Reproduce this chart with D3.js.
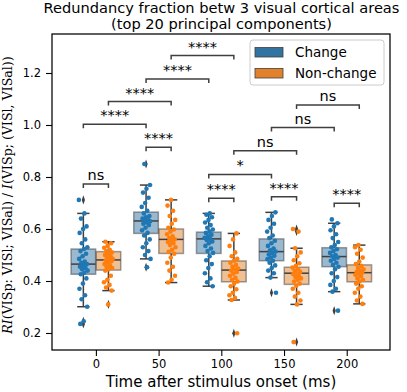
<!DOCTYPE html>
<html>
<head>
<meta charset="UTF-8">
<title>Redundancy fraction</title>
<script src="https://cdn.jsdelivr.net/npm/d3@7"></script>
<style>
  body { margin: 0; background: #fff; }
  text { font-family: "DejaVu Sans", sans-serif; fill: #000; }
</style>
</head>
<body>
<script>
var times = [0, 50, 100, 150, 200];
var hues = ["Change", "Non-change"];
var yTicks = [0.2, 0.4, 0.6, 0.8, 1.0, 1.2];

// single trial values per time bin
var changeVals = [
  [0.712, 0.660, 0.640, 0.610, 0.600, 0.585, 0.560, 0.545, 0.530, 0.523, 0.515, 0.505, 0.495, 0.485, 0.475, 0.470, 0.465, 0.460, 0.455, 0.450, 0.445, 0.440, 0.432, 0.426, 0.410, 0.390, 0.370, 0.345, 0.330, 0.301, 0.245, 0.235],
  [0.850, 0.769, 0.755, 0.740, 0.720, 0.700, 0.685, 0.670, 0.660, 0.650, 0.645, 0.640, 0.635, 0.632, 0.630, 0.625, 0.620, 0.615, 0.605, 0.595, 0.585, 0.575, 0.560, 0.545, 0.530, 0.515, 0.500, 0.485, 0.453],
  [0.660, 0.655, 0.645, 0.635, 0.625, 0.615, 0.605, 0.598, 0.590, 0.585, 0.578, 0.572, 0.566, 0.562, 0.558, 0.552, 0.545, 0.535, 0.525, 0.515, 0.508, 0.495, 0.480, 0.465, 0.450, 0.430, 0.410, 0.395, 0.380],
  [0.664, 0.650, 0.635, 0.620, 0.605, 0.590, 0.575, 0.565, 0.555, 0.545, 0.535, 0.525, 0.518, 0.513, 0.508, 0.502, 0.497, 0.490, 0.484, 0.478, 0.470, 0.460, 0.450, 0.440, 0.430, 0.413, 0.355],
  [0.637, 0.622, 0.610, 0.595, 0.580, 0.565, 0.550, 0.538, 0.530, 0.522, 0.515, 0.508, 0.500, 0.495, 0.490, 0.485, 0.478, 0.470, 0.462, 0.455, 0.445, 0.430, 0.415, 0.400, 0.385, 0.370, 0.359, 0.286]
];
var nonChangeVals = [
  [0.551, 0.545, 0.535, 0.528, 0.520, 0.515, 0.510, 0.505, 0.500, 0.495, 0.490, 0.485, 0.482, 0.480, 0.476, 0.470, 0.465, 0.460, 0.455, 0.450, 0.445, 0.440, 0.420, 0.405, 0.395, 0.385, 0.375, 0.363, 0.310],
  [0.712, 0.690, 0.670, 0.650, 0.635, 0.620, 0.605, 0.598, 0.590, 0.580, 0.572, 0.565, 0.560, 0.555, 0.550, 0.545, 0.538, 0.530, 0.520, 0.512, 0.505, 0.490, 0.470, 0.455, 0.440, 0.420, 0.405, 0.394],
  [0.583, 0.560, 0.535, 0.510, 0.495, 0.485, 0.478, 0.470, 0.462, 0.455, 0.448, 0.444, 0.440, 0.435, 0.428, 0.420, 0.412, 0.405, 0.398, 0.390, 0.380, 0.368, 0.355, 0.345, 0.335, 0.327, 0.199],
  [0.600, 0.590, 0.526, 0.510, 0.495, 0.480, 0.468, 0.458, 0.452, 0.445, 0.440, 0.435, 0.430, 0.426, 0.420, 0.415, 0.410, 0.405, 0.398, 0.390, 0.382, 0.370, 0.355, 0.340, 0.325, 0.310, 0.165],
  [0.538, 0.530, 0.520, 0.505, 0.490, 0.475, 0.465, 0.458, 0.450, 0.445, 0.440, 0.435, 0.432, 0.428, 0.424, 0.418, 0.410, 0.404, 0.398, 0.390, 0.380, 0.370, 0.355, 0.340, 0.325, 0.312]
];

// box summaries: [whisker low, q1, median, q3, whisker high]
var changeBox = [
  [0.301, 0.426, 0.465, 0.523, 0.660],
  [0.485, 0.583, 0.631, 0.665, 0.769],
  [0.380, 0.506, 0.562, 0.588, 0.660],
  [0.413, 0.478, 0.513, 0.562, 0.664],
  [0.359, 0.455, 0.494, 0.528, 0.622]
];
var nonChangeBox = [
  [0.363, 0.442, 0.481, 0.513, 0.551],
  [0.394, 0.506, 0.560, 0.600, 0.712],
  [0.327, 0.397, 0.442, 0.477, 0.583],
  [0.310, 0.387, 0.430, 0.453, 0.526],
  [0.312, 0.397, 0.432, 0.462, 0.538]
];
var changeOutliers = [[0.712, 0.245, 0.235], [0.850, 0.453], [], [0.355], [0.286]];
var nonChangeOutliers = [[0.310], [], [0.199], [0.600, 0.590, 0.165], []];

// significance brackets: [time index, hue index] pairs, bracket height, label
var annotations = [
  { a: [0, 0], b: [0, 1], y: 0.773, label: "ns" },
  { a: [1, 0], b: [1, 1], y: 0.914, label: "****" },
  { a: [0, 0], b: [1, 0], y: 1.003, label: "****" },
  { a: [0, 1], b: [1, 1], y: 1.090, label: "****" },
  { a: [1, 0], b: [2, 0], y: 1.177, label: "****" },
  { a: [1, 1], b: [2, 1], y: 1.267, label: "****" },
  { a: [2, 0], b: [2, 1], y: 0.718, label: "****" },
  { a: [2, 0], b: [3, 0], y: 0.810, label: "*" },
  { a: [3, 0], b: [3, 1], y: 0.724, label: "****" },
  { a: [2, 1], b: [3, 1], y: 0.901, label: "ns" },
  { a: [3, 0], b: [4, 0], y: 0.990, label: "ns" },
  { a: [3, 1], b: [4, 1], y: 1.077, label: "ns" },
  { a: [4, 0], b: [4, 1], y: 0.699, label: "****" }
];

var width = 407, height = 392;
var mLeft = 52, mRight = 390, mTop = 34, mBottom = 350;

var pointColor = ["#1f77b4", "#ff7f0e"];
var boxColor = ["#3274a1", "#e1812c"];
var dark = "#3f3f3f";

var x = d3.scaleLinear().domain([-35, 234.5]).range([mLeft, mRight]);
var y = d3.scaleLinear().domain([0.1346, 1.35]).range([mBottom, mTop]);

var hueOffset = 10, boxW = 19.6;   // in ms units
function cx(ti, hi) { return x(times[ti] + (hi === 0 ? -hueOffset : hueOffset)); }

var svg = d3.select("body").append("svg")
    .attr("width", width)
    .attr("height", height);

var plot = svg.append("g");

// boxes
[changeBox, nonChangeBox].forEach(function(boxes, hi) {
  boxes.forEach(function(b, ti) {
    var c = cx(ti, hi);
    var half = (x(boxW) - x(0)) / 2;
    var capHalf = half / 2;
    var g = plot.append("g");
    g.append("rect")
      .attr("x", c - half).attr("width", half * 2)
      .attr("y", y(b[3])).attr("height", y(b[1]) - y(b[3]))
      .attr("fill", boxColor[hi]).attr("fill-opacity", 0.5)
      .attr("stroke", dark).attr("stroke-opacity", 0.5).attr("stroke-width", 1.5);
    // whiskers
    g.append("line").attr("x1", c).attr("x2", c).attr("y1", y(b[3])).attr("y2", y(b[4]))
      .attr("stroke", dark).attr("stroke-width", 1.5);
    g.append("line").attr("x1", c).attr("x2", c).attr("y1", y(b[1])).attr("y2", y(b[0]))
      .attr("stroke", dark).attr("stroke-width", 1.5);
    [b[0], b[4]].forEach(function(v) {
      g.append("line").attr("x1", c - capHalf).attr("x2", c + capHalf)
        .attr("y1", y(v)).attr("y2", y(v))
        .attr("stroke", dark).attr("stroke-width", 1.5);
    });
    g.append("line").attr("x1", c - half).attr("x2", c + half)
      .attr("y1", y(b[2])).attr("y2", y(b[2]))
      .attr("stroke", dark).attr("stroke-width", 1.5);
  });
});

// outlier diamonds
var diamond = d3.symbol().type(d3.symbolDiamond).size(14);
[changeOutliers, nonChangeOutliers].forEach(function(outs, hi) {
  outs.forEach(function(list, ti) {
    plot.selectAll(null).data(list).enter().append("path")
      .attr("d", diamond)
      .attr("transform", function(v) { return "translate(" + cx(ti, hi) + "," + y(v) + ") scale(0.8,1.3)"; })
      .attr("fill", dark);
  });
});

// strip points, deterministic jitter
[changeVals, nonChangeVals].forEach(function(groups, hi) {
  groups.forEach(function(vals, ti) {
    plot.selectAll(null).data(vals).enter().append("circle")
      .attr("cx", function(v, i) {
        var j = ((i * 0.618034 + ti * 0.31 + hi * 0.17) % 1) - 0.5;
        return cx(ti, hi) + j * 9;
      })
      .attr("cy", function(v) { return y(v); })
      .attr("r", 2.3)
      .attr("fill", pointColor[hi]);
  });
});

// significance brackets
var tickDrop = 4;
annotations.forEach(function(a) {
  var x1 = cx(a.a[0], a.a[1]), x2 = cx(a.b[0], a.b[1]), yy = y(a.y);
  plot.append("path")
    .attr("d", "M" + x1 + "," + (yy + tickDrop) + "V" + yy + "H" + x2 + "V" + (yy + tickDrop))
    .attr("fill", "none").attr("stroke", dark).attr("stroke-width", 1.5);
  plot.append("text")
    .attr("x", (x1 + x2) / 2).attr("y", yy - 4)
    .attr("text-anchor", "middle")
    .style("font-size", "14.5px")
    .text(a.label);
});

// frame
svg.append("rect")
  .attr("x", mLeft).attr("y", mTop)
  .attr("width", mRight - mLeft).attr("height", mBottom - mTop)
  .attr("fill", "none").attr("stroke", "#000").attr("stroke-width", 1.25);

// axes
var yAxis = svg.append("g")
  .attr("transform", "translate(" + mLeft + ",0)")
  .call(d3.axisLeft(y).tickValues(yTicks).tickSize(6).tickPadding(5).tickFormat(d3.format(".1f")));
var xAxis = svg.append("g")
  .attr("transform", "translate(0," + mBottom + ")")
  .call(d3.axisBottom(x).tickValues(times).tickSize(6).tickPadding(4));
[yAxis, xAxis].forEach(function(ax) {
  ax.select(".domain").remove();
  ax.selectAll(".tick line").attr("stroke", "#000").attr("stroke-width", 1.1);
  ax.selectAll(".tick text").attr("fill", "#000").style("font-size", "11.5px")
    .style("font-family", "DejaVu Sans");
});

// axis labels
svg.append("text")
  .attr("x", (mLeft + mRight) / 2).attr("y", 387)
  .attr("text-anchor", "middle")
  .style("font-size", "15px")
  .text("Time after stimulus onset (ms)");

var yl = svg.append("text")
  .attr("transform", "translate(12," + ((mTop + mBottom) / 2 + 3) + ") rotate(-90)")
  .attr("text-anchor", "middle")
  .style("font-family", "DejaVu Serif")
  .style("font-size", "12.6px");
yl.append("tspan").style("font-style", "italic").text("RI");
yl.append("tspan").text("(VISp: VISl; VISal) / ");
yl.append("tspan").style("font-style", "italic").text("I");
yl.append("tspan").text("(VISp; (VISl, VISal))");

// title
svg.append("text")
  .attr("x", 221.5).attr("y", 13)
  .attr("text-anchor", "middle")
  .style("font-size", "14.6px")
  .text("Redundancy fraction betw 3 visual cortical areas");
svg.append("text")
  .attr("x", 221.5).attr("y", 28.5)
  .attr("text-anchor", "middle")
  .style("font-size", "14.6px")
  .text("(top 20 principal components)");

// legend
var lg = svg.append("g").attr("transform", "translate(250,40)");
lg.append("rect")
  .attr("width", 134).attr("height", 45).attr("rx", 3)
  .attr("fill", "#fff").attr("fill-opacity", 0.8)
  .attr("stroke", "#ccc").attr("stroke-width", 1);
hues.forEach(function(h, i) {
  lg.append("rect")
    .attr("x", 5).attr("y", 7.5 + i * 21).attr("width", 28).attr("height", 9.5)
    .attr("fill", boxColor[i]).attr("stroke", dark).attr("stroke-width", 0.8);
  lg.append("text")
    .attr("x", 45).attr("y", 17 + i * 21)
    .style("font-size", "13.5px")
    .text(h);
});
</script>
</body>
</html>
